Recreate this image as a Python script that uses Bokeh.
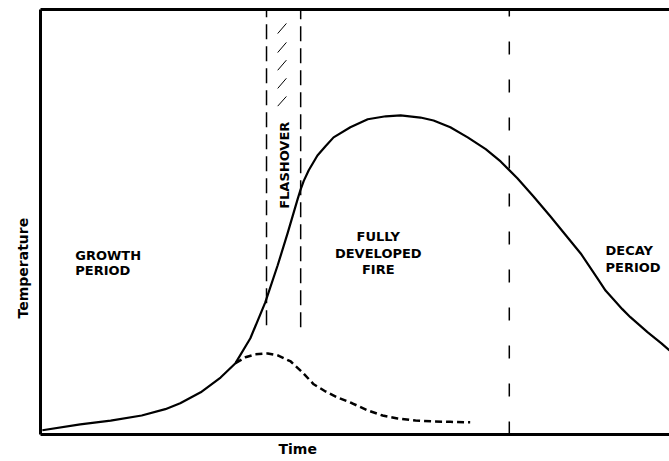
from bokeh.plotting import figure
from bokeh.models import Range1d, LinearAxis, FixedTicker, Title
from bokeh.core.properties import value
from bokeh.embed import file_html
from bokeh.resources import INLINE
import math

# ---- data (time, temperature in arbitrary units) ----
fire_time = [0.3, 6.4, 11.3, 16.3, 20.1, 22.5, 25.8, 29.0, 31.4, 33.8, 36.2, 38.2,
             39.8, 41.4, 41.9, 42.4, 43.2, 44.6, 45.9, 47.2, 49.9, 52.7, 55.6, 58.0,
             61.2, 63.3, 66.0, 68.8, 71.7, 74.1, 76.8, 79.4, 82.1, 84.5, 87.0, 89.7,
             91.0, 92.3, 93.7, 95.0, 97.8, 100.0, 101.3]
fire_temp = [0.5, 1.9, 2.8, 4.0, 5.5, 6.9, 9.5, 13.0, 16.4, 22.3, 30.8, 39.6,
             47.2, 55.2, 57.6, 59.6, 62.1, 65.6, 67.8, 69.9, 72.3, 74.2, 74.9, 75.1,
             74.6, 73.9, 72.3, 69.9, 67.1, 64.2, 60.2, 55.9, 51.2, 46.9, 42.4, 36.5,
             33.6, 31.5, 29.2, 27.3, 23.7, 21.1, 19.4]

noflash_time = [31.4, 33.0, 34.6, 36.6, 38.3, 40.3, 42.2, 44.0, 45.9, 47.8, 50.2,
                52.7, 55.1, 57.5, 60.4, 63.3, 66.0, 69.2]
noflash_temp = [16.4, 17.8, 18.5, 18.7, 18.2, 16.8, 14.2, 11.4, 9.7, 8.3, 6.9,
                5.2, 4.0, 3.3, 2.8, 2.6, 2.5, 2.4]

flash_start, flash_end, decay_start = 36.4, 41.9, 75.5
flash_line_bottom = [25.4, 24.9]

hatch_x0, hatch_x1 = 38.2, 39.6
hatch_y0 = [94.5, 90.0, 85.8, 81.5, 77.3]
hatch_y1 = [96.9, 92.4, 88.2, 83.9, 79.6]

phase_text = ["GROWTH", "PERIOD", "FULLY", "DEVELOPED", "FIRE", "DECAY", "PERIOD"]
phase_x = [5.6, 5.6, 54.4, 54.4, 54.4, 91.0, 91.0]
phase_y = [41.9, 38.4, 46.4, 42.4, 38.6, 43.1, 39.1]
phase_align = ["left", "left", "center", "center", "center", "left", "left"]

X_MIN, X_MAX = 0, 101.3
Y_MIN, Y_MAX = -0.5, 100.2

FONT = "DejaVu Sans"

p = figure(width=669, height=461, output_backend="svg", toolbar_location=None,
           x_range=Range1d(X_MIN, X_MAX), y_range=Range1d(Y_MIN, Y_MAX),
           min_border_left=40, min_border_right=0, min_border_top=9,
           min_border_bottom=27)
p.outline_line_color = None
p.grid.visible = False
p.background_fill_color = "white"
p.border_fill_color = "white"

def style_axis(ax):
    ax.ticker = FixedTicker(ticks=[])
    ax.axis_line_width = 3
    ax.axis_line_color = "black"
    ax.major_tick_line_color = None
    ax.minor_tick_line_color = None
    ax.major_tick_out = 0
    ax.major_tick_in = 0
    ax.major_label_standoff = 0
    ax.major_label_text_font_size = "0px"

style_axis(p.xaxis[0])
style_axis(p.yaxis[0])
top = LinearAxis()
style_axis(top)
p.add_layout(top, "above")

# axis titles, positioned as in the original drawing
p.add_layout(Title(text="Time", align="left", offset=238, standoff=8,
                   text_font=FONT, text_font_style="bold",
                   text_font_size="14px", text_color="black"), "below")
p.add_layout(Title(text="Temperature", align="left", offset=116, standoff=20,
                   text_font=FONT, text_font_style="bold",
                   text_font_size="14px", text_color="black"), "left")

# phase boundary lines
p.segment(x0=[flash_start, flash_end], y0=flash_line_bottom,
          x1=[flash_start, flash_end], y1=[Y_MAX, Y_MAX],
          line_color="black", line_width=1.5, line_dash="15 7")
p.segment(x0=[decay_start], y0=[Y_MIN], x1=[decay_start], y1=[Y_MAX],
          line_color="black", line_width=1.5, line_dash="13 25")

# hatch marks in flashover band
p.segment(x0=[hatch_x0] * len(hatch_y0), y0=hatch_y0,
          x1=[hatch_x1] * len(hatch_y1), y1=hatch_y1,
          line_color="black", line_width=1)

# curves
p.line(fire_time, fire_temp, line_color="black", line_width=2.2,
       line_join="round")
p.line(noflash_time, noflash_temp, line_color="black", line_width=2.5,
       line_dash="7 4", line_join="round")

# labels
for t, x, y, a in zip(phase_text, phase_x, phase_y, phase_align):
    p.text(x=[x], y=[y], text=[t], text_align=a, text_baseline="alphabetic",
           text_font=value(FONT), text_font_style="bold",
           text_font_size="13px", text_color="black")

p.text(x=[39.3], y=[63.3], text=["FLASHOVER"], angle=math.pi / 2,
       text_align="center", text_baseline="middle",
       text_font=value(FONT), text_font_style="bold",
       text_font_size="13px", text_color="black")

open("out.html", "w").write(file_html(p, INLINE))
